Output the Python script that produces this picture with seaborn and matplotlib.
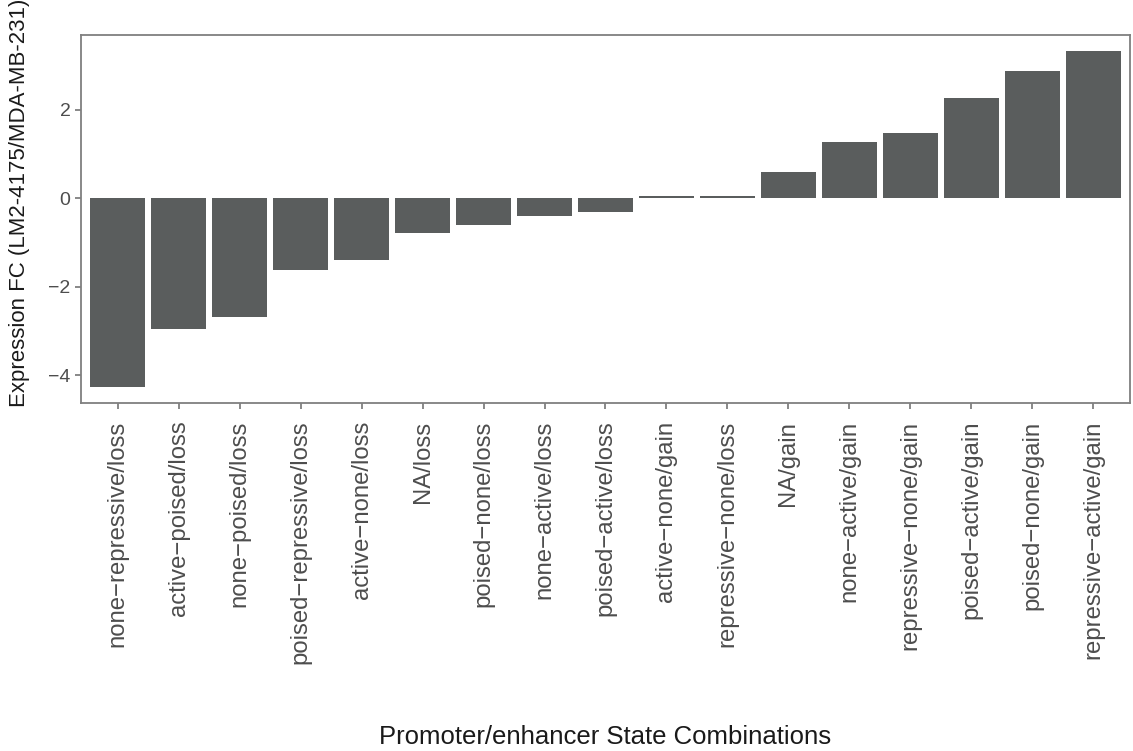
import matplotlib
matplotlib.use("Agg")
import matplotlib.pyplot as plt
import seaborn as sns
import pandas as pd

# Promoter/enhancer state combinations and their expression fold change
categories = [
    "none\u2212repressive/loss", "active\u2212poised/loss", "none\u2212poised/loss",
    "poised\u2212repressive/loss", "active\u2212none/loss", "NA/loss",
    "poised\u2212none/loss", "none\u2212active/loss", "poised\u2212active/loss",
    "active\u2212none/gain", "repressive\u2212none/loss", "NA/gain",
    "none\u2212active/gain", "repressive\u2212none/gain", "poised\u2212active/gain",
    "poised\u2212none/gain", "repressive\u2212active/gain",
]
fold_change = [
    -4.25, -2.95, -2.68, -1.62, -1.39, -0.79, -0.61, -0.41, -0.32,
    0.04, 0.04, 0.58, 1.27, 1.47, 2.25, 2.86, 3.31,
]
y_ticks = [-4, -2, 0, 2]

df = pd.DataFrame({"combo": categories, "fc": fold_change})

sns.set_theme(style="white")
plt.rcParams["font.family"] = ["Liberation Sans", "DejaVu Sans"]

fig = plt.figure(figsize=(11.33, 7.51), dpi=100)
ax = fig.add_axes([81 / 1133, 1 - 403.3 / 751, 1049 / 1133, (403.3 - 34.7) / 751])

sns.barplot(data=df, x="combo", y="fc", order=categories, color="#5A5D5D",
            saturation=1, width=0.9, errorbar=None, linewidth=0, ax=ax)

lo, hi = min(fold_change), max(fold_change)
span = hi - lo
ax.set_ylim(lo - 0.05 * span, hi + 0.05 * span)
ax.set_xlim(-0.6, len(categories) - 0.4)
ax.set_yticks(y_ticks)

border = "#7F7F7F"
for s in ax.spines.values():
    s.set_visible(True)
    s.set_color(border)
    s.set_linewidth(1.3)

ax.tick_params(axis="both", which="major", length=4.5, width=1.3, color=border,
               labelcolor="#4D4D4D", bottom=True, left=True)
ax.tick_params(axis="x", labelsize=17.2, pad=8, labelrotation=90)
ax.tick_params(axis="y", labelsize=14, pad=3)
for lab in ax.get_xticklabels():
    lab.set_verticalalignment("top")
    lab.set_horizontalalignment("center")

ax.set_xlabel("Promoter/enhancer State Combinations", fontsize=18.5, color="#1A1A1A")
ax.set_ylabel("Expression FC (LM2-4175/MDA-MB-231)", fontsize=16, color="#1A1A1A")
ax.xaxis.set_label_coords(0.5, -(737 - 403.3) / 368.6)
ax.yaxis.set_label_coords((20 - 81) / 1049, (403.3 - 203) / 368.6)
ax.xaxis.label.set_verticalalignment("center")
ax.yaxis.label.set_verticalalignment("center")

fig.savefig("out.png", dpi=100, facecolor="white")
